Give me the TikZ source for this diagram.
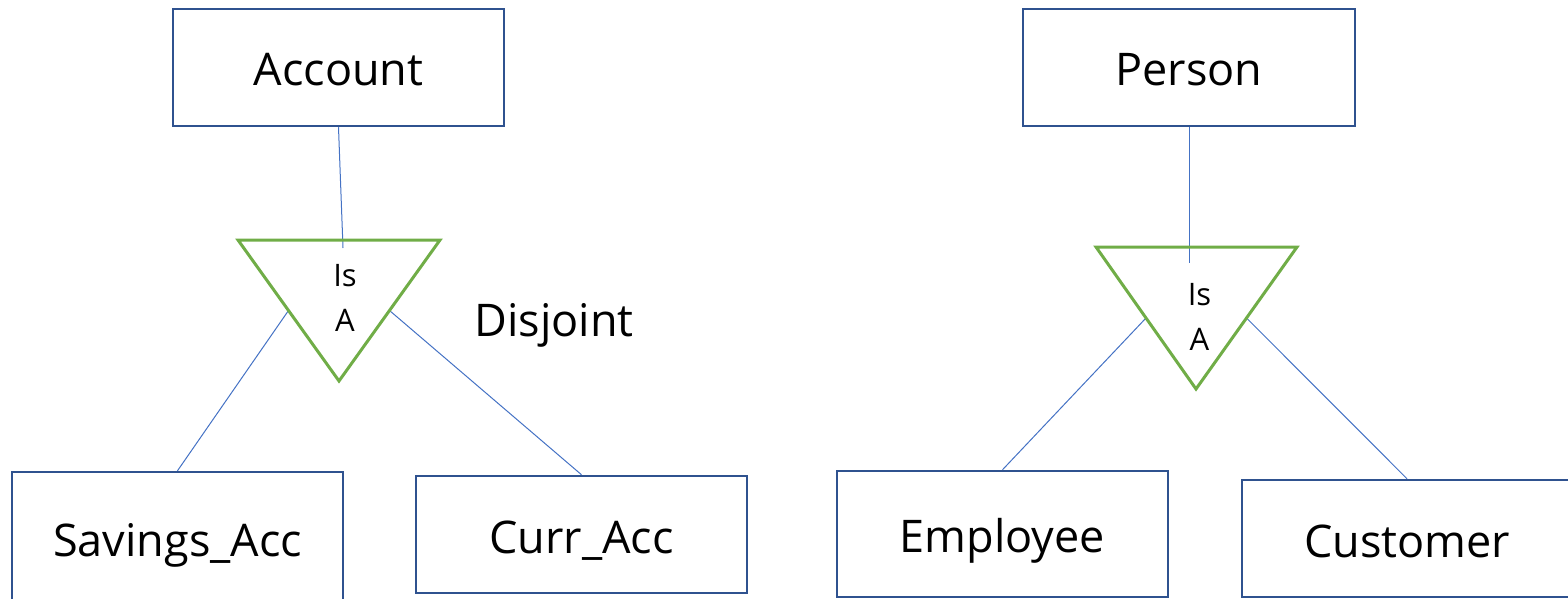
\documentclass[tikz,border=0pt]{standalone}
\usepackage{fontspec}
\setsansfont{Open Sans}
\usetikzlibrary{calc,positioning}

\definecolor{entblue}{HTML}{2F528F}
\definecolor{linkblue}{HTML}{4472C4}
\definecolor{isagreen}{HTML}{70AD47}

\begin{document}
\begin{tikzpicture}[x=1pt, y=-1pt, font=\sffamily,
    ent/.style={draw=entblue, line width=2.5pt, fill=white, inner sep=0pt,
        minimum width=331pt, minimum height=117pt, text height=37pt, text depth=0pt,
        font=\sffamily\fontsize{45}{50}\selectfont},
    isa/.style={draw=isagreen, line width=3pt, line join=miter},
    link/.style={draw=linkblue, line width=1pt},
    isatext/.style={align=center, inner sep=0pt, font=\sffamily\fontsize{31}{45}\selectfont}]
    \useasboundingbox (0,0) rectangle (1568,599);

    % Entita' Account
    \node[ent] (acc) at (338.5,67.5) {Account};
    \node[ent, minimum height=131pt] (sav) at (177.5,537.5) {Savings\_Acc};
    \node[ent] (cur) at (581.5,534.5) {Curr\_Acc};

    % Entita' Person
    \node[ent, minimum width=332pt] (per) at (1189,67.5) {Person};
    \node[ent, minimum height=126pt] (emp) at (1002.5,534) {Employee};
    \node[ent, minimum width=330pt] (cus) at (1407,538.5) {Customer};

    % Triangoli Is A
    \coordinate (t1l) at (238,240);
    \coordinate (t1r) at (440,240);
    \coordinate (t1b) at (339,381);
    \coordinate (t2l) at (1096,247);
    \coordinate (t2r) at (1297,247);
    \coordinate (t2b) at (1196,389);
    \coordinate (t1in) at (343,248);
    \coordinate (t2in) at (1189,263);

    % Collegamenti
    \draw[link] (acc.south) -- (t1in);
    \draw[link] ($(t1l)!0.5!(t1b)$) -- (sav.north);
    \draw[link] ($(t1r)!0.5!(t1b)$) -- (cur.north);
    \draw[link] (per.south) -- (t2in);
    \draw[link] ($(t2l)!0.5!(t2b)$) -- (emp.north);
    \draw[link] ($(t2r)!0.5!(t2b)$) -- (cus.north);

    \draw[isa] (t1l) -- (t1r) -- (t1b) -- cycle;
    \draw[isa] (t2l) -- (t2r) -- (t2b) -- cycle;
    \node[isatext] (isa1) at (345,298) {Is\\A};
    \node[isatext] (isa2) at (1199.5,317) {Is\\A};

    % Vincolo
    \node[font=\sffamily\fontsize{45}{50}\selectfont, inner sep=0pt] (disj) at (554,325) {Disjoint};
\end{tikzpicture}
\end{document}
